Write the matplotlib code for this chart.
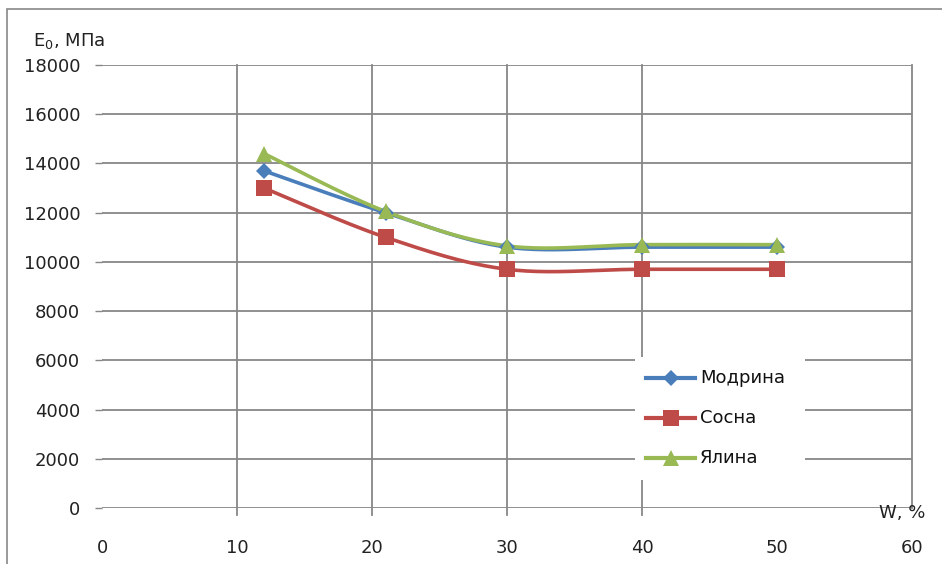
import numpy as np
import matplotlib
matplotlib.use("Agg")
import matplotlib.pyplot as plt
from matplotlib.patches import Rectangle

plt.rcParams['font.family'] = ['DejaVu Sans']
plt.rcParams['mathtext.fontset'] = 'dejavusans'

# Moisture content, %
moisture = [12, 21, 30, 40, 50]
# Modulus of elasticity E0, MPa
modryna = [13700, 12000, 10600, 10600, 10600]
sosna = [13000, 11000, 9700, 9700, 9700]
yalyna = [14400, 12050, 10650, 10700, 10700]

series_names = ["Модрина", "Сосна", "Ялина"]
x_ticks = [0, 10, 20, 30, 40, 50, 60]
y_ticks = list(range(0, 18001, 2000))

W, H = 942, 564
GRID = "#878787"
colors = ["#4A7EBB", "#BE4B48", "#98B954"]
markers = ["D", "s", "^"]
msizes = [8, 11.5, 11.5]


def smooth(xs, ys, n=40):
    """Catmull-Rom style cubic Bezier smoothing through the points."""
    xs = np.asarray(xs, float)
    ys = np.asarray(ys, float)
    P = np.column_stack([xs, ys])
    out = [P[0]]
    for i in range(len(P) - 1):
        p0 = P[i - 1] if i > 0 else P[i]
        p1 = P[i]
        p2 = P[i + 1]
        p3 = P[i + 2] if i + 2 < len(P) else P[i + 1]
        c1 = p1 + (p2 - p0) / 6.0
        c2 = p2 - (p3 - p1) / 6.0
        t = np.linspace(0, 1, n)[1:, None]
        seg = ((1 - t) ** 3) * p1 + 3 * ((1 - t) ** 2) * t * c1 \
            + 3 * (1 - t) * t ** 2 * c2 + t ** 3 * p2
        out.extend(seg)
    out = np.array(out)
    return out[:, 0], out[:, 1]


fig = plt.figure(figsize=(W / 100, H / 100), dpi=100)

# outer chart frame
fig.patches.append(Rectangle((7 / W, -0.1), 1.2, 1 - 9 / H + 0.1,
                             transform=fig.transFigure, fill=False,
                             edgecolor=GRID, linewidth=1.2))

ax = fig.add_axes([102 / W, 1 - 508 / H, 810 / W, 443 / H])
ax.set_xlim(0, 60)
ax.set_ylim(0, 18000)
for s in ax.spines.values():
    s.set_visible(False)

ax.set_yticks(y_ticks)
ax.set_yticklabels([str(v) for v in y_ticks])
ax.tick_params(axis='y', length=5.2, width=1.0, color=GRID, direction='out',
               pad=10.5, labelsize=13, labelcolor="#222222")
ax.set_xticks(x_ticks)
ax.set_xticklabels([str(v) for v in x_ticks])
ax.tick_params(axis='x', length=0, pad=22, labelsize=13, labelcolor="#222222")

for yv in y_ticks:
    ax.axhline(yv, color=GRID, linewidth=1.3, zorder=1)
for xv in [10, 20, 30, 40]:
    ax.plot([xv, xv], [-290, 18000], color=GRID, linewidth=1.3,
            clip_on=False, zorder=1)
ax.plot([60, 60], [0, 18000], color=GRID, linewidth=1.3, clip_on=False, zorder=1)

for ys, c, m, ms in zip([modryna, sosna, yalyna], colors, markers, msizes):
    sx, sy = smooth(moisture, ys)
    ax.plot(sx, sy, color=c, linewidth=2.6, zorder=3, solid_capstyle='round')
    ax.plot(moisture, ys, linestyle='none', marker=m, markersize=ms,
            color=c, markeredgewidth=0, zorder=4)

# axis titles
fig.text(33 / W, 1 - 46 / H, r"E$_0$, МПа", fontsize=13, color="#222222",
         ha='left', va='baseline')
fig.text(902 / W, 1 - 518 / H, "W, %", fontsize=13, color="#222222",
         ha='center', va='baseline')

# legend panel
lx0, lx1, ly0, ly1 = 635, 805, 357, 480
lax = fig.add_axes([lx0 / W, 1 - ly1 / H, (lx1 - lx0) / W, (ly1 - ly0) / H])
lax.set_xlim(lx0, lx1)
lax.set_ylim(ly1, ly0)
lax.set_xticks([])
lax.set_yticks([])
for s in lax.spines.values():
    s.set_visible(False)
lax.set_facecolor("white")
rows = [378, 418, 458]
for name, c, m, ms, yy in zip(series_names, colors, markers, msizes, rows):
    lax.plot([646, 695], [yy, yy], color=c, linewidth=3)
    lax.plot([670.5], [yy], marker=m, markersize=ms, color=c, markeredgewidth=0)
    lax.text(700, yy, name, fontsize=13, color="#111111", ha='left', va='center')

fig.savefig("out.png", dpi=100)
